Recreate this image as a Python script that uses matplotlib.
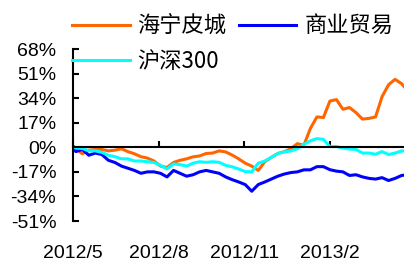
import pandas as pd
import matplotlib
matplotlib.use("Agg")
import matplotlib.pyplot as plt
from datetime import datetime

plt.rcParams['font.family'] = ['Liberation Sans', 'DejaVu Sans']

# weekly closes, cumulative return in % since 2012-05-02
dates = [pd.Timestamp("2012-05-02")] + list(pd.date_range("2012-05-04", periods=52, freq="W-FRI"))

haining = [0, -1, -4.5, -2, -1.5, -1.5, -2.5, -2, -1, -3, -4.5, -6.5, -7.5, -9.5, -13, -14,
           -10.5, -9, -8, -6.6, -6, -4.3, -4, -2.5, -3.2, -5.4, -8, -11, -13, -16, -10, -7,
           -4.3, -3, -1, 2.5, 1.4, 13, 21, 20.6, 32, 33, 26.3, 27.5, 24, 19.5, 20, 21,
           35, 43.3, 47, 44, 38.7]
trade = [0, -3, -1.5, -5.5, -4, -5, -9, -10.5, -13, -14.5, -16, -18, -17, -17, -18, -20.5,
         -16, -18, -20, -19, -17, -16, -17, -18, -20.5, -22.4, -24, -25.8, -30.4, -25.8, -24, -22,
         -20, -18.5, -17.5, -17, -15.6, -15.6, -13.4, -13.4, -15.5, -16.5, -17, -19.5, -19, -20.5,
         -21.5, -22, -21, -23, -21.5, -19.5, -19]
hs300 = [0, -0.5, -0.8, -2.5, -2.5, -3.5, -5.5, -6.5, -8, -8, -9.5, -9.5, -10, -10.5, -12.5, -15,
         -11.5, -12, -13, -11, -10, -10.4, -10, -10.4, -12.5, -13.5, -15, -16.8, -17, -11, -9.5, -7,
         -4.3, -3.2, -2.5, -1, 2, 4.5, 6, 5.5, 0.5, 0.5, -0.5, -1.2, -1.5, -4, -4, -4.8,
         -3, -5, -4, -2.5, -2.5]

yticks = [-51, -34, -17, 0, 17, 34, 51, 68]
xticks = ["2012-05-01", "2012-08-01", "2012-11-01", "2013-02-01"]
xlabels = ["2012/5", "2012/8", "2012/11", "2013/2"]

fig = plt.figure(figsize=(4.04, 2.60), dpi=100)
ax = fig.add_axes([0.1807, 0.15, 0.8193, 0.6615])

l1, = ax.plot(dates, haining, color="#FF6600", lw=2.2, label="海宁皮城")
l2, = ax.plot(dates, trade, color="#0000FF", lw=2.2, label="商业贸易")
l3, = ax.plot(dates, hs300, color="#00FFFF", lw=2.2, label="沪深300")

ax.set_ylim(-51, 68)
ax.set_xlim(datetime(2012, 5, 1), datetime(2013, 4, 21, 14))
ax.set_yticks(yticks)
ax.set_yticklabels([f"{v}%" for v in yticks])
ax.set_xticks([pd.Timestamp(d) for d in xticks])
ax.set_xticklabels(xlabels)

ax.spines['top'].set_visible(False)
ax.spines['right'].set_visible(False)
ax.spines['bottom'].set_position(('data', 0))
ax.spines['left'].set_linewidth(1.5)
ax.spines['bottom'].set_linewidth(1.5)
ax.tick_params(axis='y', direction='in', length=4, width=1.5, pad=12, labelsize=14)
ax.tick_params(axis='x', direction='in', length=4, width=1.5, pad=70, labelsize=14)

fig.legend([l1, l3, l2], ["海宁皮城", "沪深300", "商业贸易"], ncol=2, frameon=False,
           loc="upper left", bbox_to_anchor=(0.178, 0.945), borderpad=0, borderaxespad=0,
           handlelength=2.6, handletextpad=0.35, columnspacing=0.55, labelspacing=0.55,
           prop={'family': ['Noto Sans CJK SC', 'DejaVu Sans'], 'size': 16})

fig.savefig("out.png", dpi=100)
